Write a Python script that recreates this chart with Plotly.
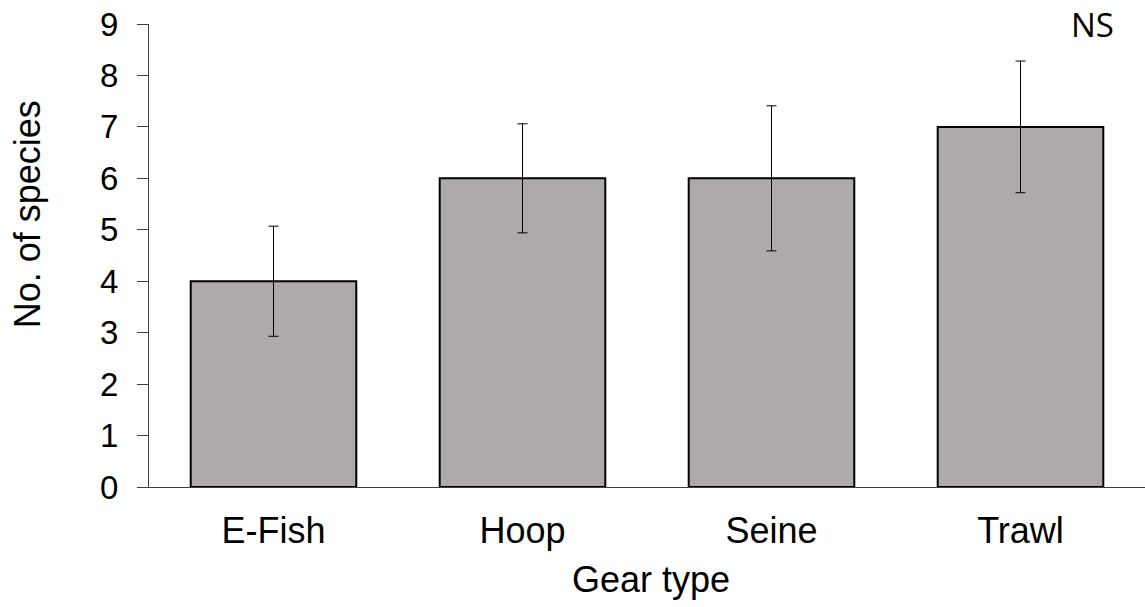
import plotly.graph_objects as go

categories = ["E-Fish", "Hoop", "Seine", "Trawl"]
species = [4, 6, 6, 7]
errors = [1.07, 1.06, 1.41, 1.28]
y_ticks = list(range(0, 10))

fig = go.Figure()
fig.add_trace(go.Bar(
    x=categories, y=species,
    width=0.665,
    marker=dict(color="#AEAAAA", line=dict(color="#000000", width=2)),
    error_y=dict(type="data", array=errors, visible=True, color="#000000",
                 thickness=1, width=5),
))

fig.update_layout(
    width=1145, height=607,
    margin=dict(l=149, r=0, t=24, b=120),
    plot_bgcolor="white", paper_bgcolor="white",
    showlegend=False,
    font=dict(family="Liberation Sans, Arial, sans-serif", color="#000000"),
    xaxis=dict(
        showline=True, linecolor="#404040", linewidth=1,
        ticks="", showgrid=False, zeroline=False,
        tickfont=dict(size=36), ticklabelstandoff=12,
        range=[-0.5, 3.5],
    ),
    yaxis=dict(
        showline=True, linecolor="#404040", linewidth=1,
        ticks="outside", ticklen=11, tickcolor="#404040", tickwidth=1,
        tickvals=y_ticks, ticktext=[str(v) for v in y_ticks],
        range=[0, 9], showgrid=False, zeroline=False,
        tickfont=dict(size=33), ticklabelstandoff=12,
    ),
    annotations=[
        dict(text="NS", xref="paper", yref="paper", x=0.947, y=1.052,
             xanchor="center", yanchor="top", showarrow=False,
             font=dict(family="Open Sans, sans-serif", size=33, color="#000000")),
        dict(text="No. of species", xref="paper", yref="paper",
             x=-0.122, y=0.59, xanchor="center", yanchor="middle",
             textangle=-90, showarrow=False, font=dict(size=36)),
        dict(text="Gear type", xref="paper", yref="paper",
             x=0.504, y=-0.2, xanchor="center", yanchor="middle",
             showarrow=False, font=dict(size=36)),
    ],
)

fig.write_html("out.html")
